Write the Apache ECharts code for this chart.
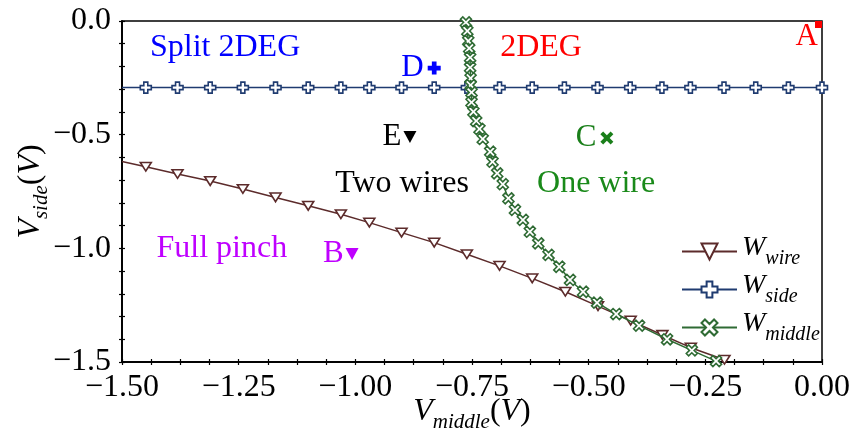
<!DOCTYPE html>
<html>
<head>
<meta charset="utf-8">
<script src="https://cdn.jsdelivr.net/npm/echarts@6/dist/echarts.min.js"></script>
<style>html,body{margin:0;padding:0;background:#fff;}#c{width:850px;height:429px;}</style>
</head>
<body>
<div id="c"></div>
<script>
// ---- data ----
const gridX = [-1.5, -1.449, -1.381, -1.311, -1.241, -1.171, -1.101, -1.031, -0.970, -0.901, -0.831, -0.761, -0.691, -0.621, -0.552, -0.481, -0.411, -0.343, -0.282, -0.210, -0.142, -0.072, 0.0];
const wireX = [-1.5, -1.449, -1.381, -1.311, -1.241, -1.171, -1.101, -1.031, -0.970, -0.901, -0.831, -0.761, -0.691, -0.621, -0.550, -0.480, -0.410, -0.342, -0.281, -0.209];
const wireY = [-0.618, -0.641, -0.673, -0.704, -0.739, -0.776, -0.813, -0.850, -0.887, -0.931, -0.975, -1.026, -1.077, -1.132, -1.191, -1.254, -1.318, -1.381, -1.437, -1.490];
const sideY = [-0.293, -0.293, -0.293, -0.293, -0.293, -0.293, -0.293, -0.293, -0.293, -0.293, -0.293, -0.293, -0.293, -0.293, -0.293, -0.293, -0.293, -0.293, -0.293, -0.293, -0.293, -0.293, -0.293];
const middleX = [-0.763, -0.760, -0.758, -0.756, -0.754, -0.754, -0.753, -0.753, -0.751, -0.751, -0.747, -0.741, -0.734, -0.727, -0.711, -0.706, -0.696, -0.684, -0.672, -0.658, -0.641, -0.626, -0.608, -0.586, -0.563, -0.540, -0.512, -0.482, -0.441, -0.392, -0.332, -0.279, -0.227];
const middleY = [-0.006, -0.044, -0.088, -0.120, -0.161, -0.205, -0.252, -0.282, -0.314, -0.358, -0.399, -0.440, -0.475, -0.519, -0.575, -0.619, -0.670, -0.718, -0.780, -0.831, -0.875, -0.927, -0.978, -1.029, -1.081, -1.139, -1.191, -1.239, -1.289, -1.340, -1.400, -1.449, -1.496];
const pointNames = ['A', 'B', 'C', 'D', 'E'];
const pointX = [0.0, -1.007, -0.461, -0.831, -0.883];
const pointY = [0.0, -1.025, -0.515, -0.207, -0.510];
const regionNames = ['Split 2DEG', '2DEG', 'Two wires', 'One wire', 'Full pinch'];
const regionX = [-1.279, -0.602, -0.900, -0.484, -1.286];
const regionY = [-0.119, -0.119, -0.717, -0.717, -0.999];
const seriesNames = ['W_wire', 'W_side', 'W_middle'];
const seriesSubs = ['wire', 'side', 'middle'];

// ---- styles ----
const FF = 'Liberation Serif';
const cWire = '#5c2b2b', cSide = '#1f3b70', cMid = '#2f6b34';
const TRI_DOWN = 'path://M0,0L10,0L5,8.66Z';
const PLUS = 'path://M3.2,0H6.8V3.2H10V6.8H6.8V10H3.2V6.8H0V3.2H3.2Z';
const XMARK = 'path://M7.83,0.05L9.95,2.17L7.12,5L9.95,7.83L7.83,9.95L5,7.12L2.17,9.95L0.05,7.83L2.88,5L0.05,2.17L2.17,0.05L5,2.88Z';
const minus = v => (v < 0 ? '\u2212' : '');
const fmtX = v => minus(v) + Math.abs(v).toFixed(2);
const fmtY = v => minus(v) + Math.abs(v).toFixed(1);

const richName = {
  m: {fontFamily: FF, fontStyle: 'italic', fontSize: 32, lineHeight: 30, verticalAlign: 'top', color: '#000'},
  r: {fontFamily: FF, fontSize: 32, lineHeight: 30, verticalAlign: 'top', color: '#000'},
  s: {fontFamily: FF, fontStyle: 'italic', fontSize: 21, lineHeight: 20, verticalAlign: 'bottom', color: '#000'},
  z: {fontSize: 1, lineHeight: 37}
};
const richLeg = {
  m: {fontFamily: FF, fontStyle: 'italic', fontSize: 28, lineHeight: 28, verticalAlign: 'top', color: '#000'},
  s: {fontFamily: FF, fontStyle: 'italic', fontSize: 20, lineHeight: 20, verticalAlign: 'bottom', color: '#000'},
  z: {fontSize: 1, lineHeight: 35}
};

const xBase = {type: 'value', min: -1.5, max: 0, interval: 0.25, position: 'bottom', splitLine: {show: false},
  axisLine: {show: true, onZero: false, lineStyle: {color: '#000', width: 1.5}}};
const yBase = {type: 'value', min: -1.5, max: 0, interval: 0.5, position: 'left', splitLine: {show: false},
  axisLine: {show: true, onZero: false, lineStyle: {color: '#000', width: 1.5}}};

const wireData = wireX.map((x, i) => i === 0 ? {value: [x, wireY[i]], symbol: 'none'} : [x, wireY[i]]);
const sideData = gridX.map((x, i) => i === 0 ? {value: [x, sideY[i]], symbol: 'none'} : [x, sideY[i]]);
const midData = middleX.map((x, i) => [x, middleY[i]]);

const ptStyles = [
  {symbol: 'rect', size: 7, offset: [-3.5, 3.5], color: '#ff0000', label: {position: 'left', offset: [8, 12]}},
  {symbol: TRI_DOWN, size: [13, 12], offset: [0, 0], color: '#bf00ff', label: {position: 'left', distance: 2}},
  {symbol: XMARK, size: 13, offset: [0, 0], color: '#1a7f1a', label: {position: 'left', distance: 4}},
  {symbol: PLUS, size: 13, offset: [0, 0], color: '#0000ff', label: {position: 'left', distance: 4}},
  {symbol: TRI_DOWN, size: [13, 12], offset: [0, 0], color: '#000000', label: {position: 'left', distance: 2}}
];
const ptData = pointNames.map((n, i) => ({
  value: [pointX[i], pointY[i]], name: n,
  symbol: ptStyles[i].symbol, symbolSize: ptStyles[i].size, symbolOffset: ptStyles[i].offset,
  itemStyle: {color: ptStyles[i].color, opacity: 1},
  label: Object.assign({show: true, formatter: n, color: ptStyles[i].color, fontFamily: FF, fontSize: 31}, ptStyles[i].label)
}));
const regionColors = ['#0000ff', '#ff0000', '#000000', '#1a8a1a', '#bf00ff'];
const regionData = regionNames.map((n, i) => ({
  value: [regionX[i], regionY[i]], name: n,
  itemStyle: {opacity: 1},
  label: {show: true, formatter: n, position: 'inside', color: regionColors[i], fontFamily: FF, fontSize: 32}
}));

const chart = echarts.init(document.getElementById('c'), null, {renderer: 'canvas'});
chart.setOption({
  animation: false,
  backgroundColor: '#fff',
  textStyle: {fontFamily: FF},
  grid: {left: 122, right: 28, top: 21, bottom: 67, outerBoundsMode: 'none', containLabel: false,
    show: true, borderColor: '#000', borderWidth: 1.5, backgroundColor: 'transparent'},
  xAxis: [
    Object.assign({}, xBase, {
      axisTick: {show: true, inside: true, length: 3, lineStyle: {color: '#000', width: 1.2}},
      minorTick: {show: true, splitNumber: 4, length: 3, lineStyle: {color: '#000', width: 1.2}},
      axisLabel: {show: true, margin: 10, formatter: fmtX, fontFamily: FF, fontSize: 32, color: '#000'},
      name: '{m|V}{s|middle}{r|(}{m|V}{r|)}{z|\u200b}', nameLocation: 'middle', nameGap: 34, nameMoveOverlap: false,
      nameTextStyle: {fontFamily: FF, rich: richName}
    }),
    Object.assign({}, xBase, {
      axisTick: {show: true, inside: false, length: 3, lineStyle: {color: '#000', width: 1.2}},
      minorTick: {show: true, splitNumber: 4, length: 3, lineStyle: {color: '#000', width: 1.2}},
      axisLabel: {show: false}
    })
  ],
  yAxis: [
    Object.assign({}, yBase, {
      axisTick: {show: true, inside: true, length: 3, lineStyle: {color: '#000', width: 1.2}},
      minorTick: {show: true, splitNumber: 5, length: 3, lineStyle: {color: '#000', width: 1.2}},
      axisLabel: {show: true, margin: 11, formatter: fmtY, fontFamily: FF, fontSize: 32, color: '#000'},
      name: '{m|V}{s|side}{r|(}{m|V}{r|)}{z|\u200b}', nameLocation: 'middle', nameGap: 70, nameRotate: 90, nameMoveOverlap: false,
      nameTextStyle: {fontFamily: FF, rich: richName}
    }),
    Object.assign({}, yBase, {
      axisTick: {show: true, inside: false, length: 3, lineStyle: {color: '#000', width: 1.2}},
      minorTick: {show: true, splitNumber: 5, length: 3, lineStyle: {color: '#000', width: 1.2}},
      axisLabel: {show: false}
    })
  ],
  legend: {
    data: seriesNames, orient: 'vertical', left: 676, top: 229, itemWidth: 55, itemHeight: 20, itemGap: 3,
    formatter: name => '{m|W}{s|' + seriesSubs[seriesNames.indexOf(name)] + '}{z|\u200b}',
    textStyle: {fontFamily: FF, rich: richLeg}
  },
  series: [
    {name: 'W_wire', type: 'line', data: wireData, symbol: TRI_DOWN, symbolSize: [11, 10], symbolKeepAspect: true,
      lineStyle: {color: cWire, width: 1.5}, itemStyle: {color: '#fff', borderColor: cWire, borderWidth: 1.6}, z: 3},
    {name: 'W_side', type: 'line', data: sideData, symbol: PLUS, symbolSize: 11, symbolKeepAspect: true,
      lineStyle: {color: cSide, width: 1.5}, itemStyle: {color: '#fff', borderColor: cSide, borderWidth: 1.6}, z: 4},
    {name: 'W_middle', type: 'line', data: midData, symbol: XMARK, symbolSize: 11, symbolKeepAspect: true,
      lineStyle: {color: cMid, width: 1.5}, itemStyle: {color: '#fff', borderColor: cMid, borderWidth: 1.6}, z: 5},
    {name: 'points', type: 'scatter', data: ptData, z: 6},
    {name: 'regions', type: 'scatter', data: regionData, symbolSize: 0, z: 6}
  ]
});
</script>
</body>
</html>
